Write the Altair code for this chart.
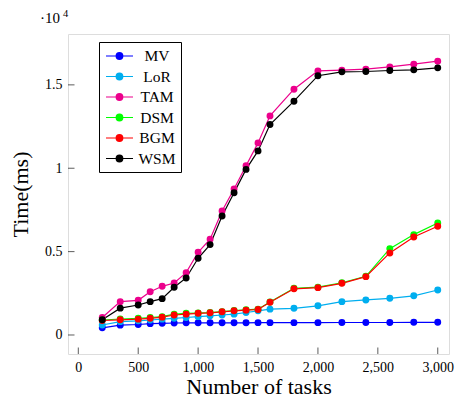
import altair as alt
import pandas as pd

tasks = [200, 350, 500, 600, 700, 800, 900, 1000, 1100, 1200, 1300, 1400,
         1500, 1600, 1800, 2000, 2200, 2400, 2600, 2800, 3000]
mv = [430, 590, 630, 680, 700, 720, 730, 730, 730, 730, 730, 730,
      740, 740, 740, 740, 750, 750, 750, 760, 760]
lor = [600, 800, 850, 900, 950, 1000, 1050, 1100, 1150, 1200, 1250, 1350,
       1450, 1550, 1600, 1750, 2000, 2100, 2200, 2350, 2700]
tam = [1050, 2000, 2080, 2590, 2920, 3120, 3740, 4960, 5740, 7440, 8750, 10150,
       11520, 13140, 14740, 15840, 15880, 15940, 16080, 16240, 16420]
dsm = [900, 960, 1000, 1050, 1100, 1250, 1300, 1320, 1350, 1400, 1470, 1510,
       1550, 1980, 2800, 2870, 3130, 3520, 5180, 6020, 6720]
bgm = [870, 910, 950, 1000, 1070, 1200, 1250, 1300, 1330, 1390, 1450, 1490,
       1530, 1960, 2770, 2840, 3100, 3500, 4920, 5880, 6520]
wsm = [910, 1610, 1800, 2000, 2180, 2860, 3420, 4600, 5420, 7140, 8530, 9930,
       11040, 12620, 14020, 15550, 15780, 15800, 15860, 15900, 16020]

series_names = ["MV", "LoR", "TAM", "DSM", "BGM", "WSM"]
series_colors = ["#0000FF", "#00AEEF", "#EC008C", "#00FF00", "#FF0000", "#000000"]
x_ticks = [0, 500, 1000, 1500, 2000, 2500, 3000]
y_ticks = [0, 0.5, 1, 1.5]

rows = []
for i, (name, vals) in enumerate(zip(series_names, [mv, lor, tam, dsm, bgm, wsm])):
    for t, v in zip(tasks, vals):
        rows.append({"series": name, "idx": i, "tasks": t, "time": v / 10000})
df = pd.DataFrame(rows)

FONT = "Liberation Serif"
xscale = alt.Scale(domain=[-86, 3094], nice=False, zero=False)
yscale = alt.Scale(domain=[-0.114, 1.805], nice=False, zero=False)
cscale = alt.Scale(domain=series_names, range=series_colors)

xenc = alt.X("tasks:Q", scale=xscale,
             axis=alt.Axis(values=x_ticks, labelExpr="format(datum.value, ',')",
                           grid=False, ticks=False, domain=False,
                           labelFont=FONT, labelFontSize=14, labelColor="black",
                           labelPadding=6, title="Number of tasks", titleFont=FONT,
                           titleFontSize=22, titleFontWeight="normal", titleColor="black",
                           titlePadding=2))
yenc = alt.Y("time:Q", scale=yscale,
             axis=alt.Axis(values=y_ticks, labelExpr="format(datum.value, '~g')",
                           grid=False, ticks=False, domain=False,
                           labelFont=FONT, labelFontSize=14, labelColor="black",
                           labelPadding=6, title="Time(ms)", titleFont=FONT,
                           titleFontSize=22, titleFontWeight="normal", titleColor="black",
                           titlePadding=12))

# legend symbol: short line with a dot (dot filled by concentric rings)
cx = 0.81
parts = ["M-0.875,0L2.5,0"]
for r in [0.06, 0.16, 0.26, 0.36, 0.42]:
    parts.append(f"M{cx + r:.3f},0A{r},{r},0,1,1,{cx - r:.3f},0A{r},{r},0,1,1,{cx + r:.3f},0Z")
sym = "".join(parts)

leg = alt.Legend(orient="none", legendX=31, legendY=8, title=None,
                 strokeColor="black", fillColor="white", padding=5,
                 symbolType=sym, symbolSize=256, symbolStrokeWidth=1.1,
                 symbolOpacity=1, labelFont=FONT, labelFontSize=15.5,
                 labelColor="black", labelAlign="center", labelOffset=35,
                 rowPadding=2.5)

base = alt.Chart(df)
lines = base.mark_line(strokeWidth=1.2).encode(
    x=xenc, y=yenc,
    color=alt.Color("series:N", scale=cscale, legend=leg),
    detail="series:N",
    order="tasks:Q",
)
points = base.mark_point(filled=True, size=48, opacity=1).encode(
    x="tasks:Q", y="time:Q",
    color=alt.Color("series:N", scale=cscale, legend=None),
    order="idx:Q",
)

xt = pd.DataFrame({"v": x_ticks})
yt = pd.DataFrame({"v": y_ticks})
xticks = alt.Chart(xt).mark_rule(color="#333", strokeWidth=0.8).encode(
    x="v:Q", y=alt.value(320), y2=alt.value(313.5))
yticks = alt.Chart(yt).mark_rule(color="#333", strokeWidth=0.8).encode(
    y="v:Q", x=alt.value(0), x2=alt.value(6.5))

exp_base = alt.Chart(pd.DataFrame({"t": ["·10"]})).mark_text(
    font=FONT, fontSize=15, align="left", baseline="alphabetic", color="black"
).encode(text="t:N", x=alt.value(-28), y=alt.value(-11))
exp_sup = alt.Chart(pd.DataFrame({"t": ["4"]})).mark_text(
    font=FONT, fontSize=10.5, align="left", baseline="alphabetic", color="black"
).encode(text="t:N", x=alt.value(-5), y=alt.value(-17))

chart = alt.layer(xticks, yticks, lines, points, exp_base, exp_sup).properties(
    width=381, height=320,
    padding={"left": 68, "top": 34, "right": 7, "bottom": 46},
    autosize=alt.AutoSizeParams(type="none"),
).configure_view(stroke="black", strokeWidth=1).configure(background="white")

chart.save("out.html", embed_options={"renderer": "svg", "actions": False})
